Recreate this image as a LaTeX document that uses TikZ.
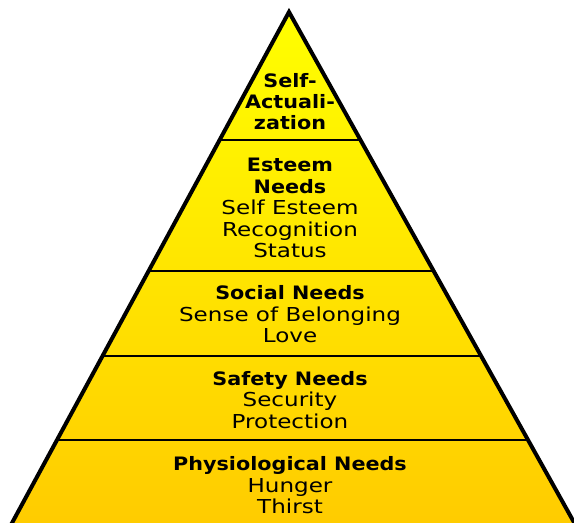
\documentclass[tikz,border=0pt]{standalone}
\usepackage{fontspec}
\setmainfont[FakeStretch=1.2,BoldFeatures={FakeStretch=1.12}]{DejaVu Sans}
\newcommand\hdr[1]{{\fontsize{18.5}{21.4}\selectfont\bfseries #1}}
\begin{document}
\begin{tikzpicture}[x=1pt,y=-1pt,
  tier/.style={align=center,inner sep=0pt,font=\fontsize{19.2}{21.4}\selectfont},
  sep/.style={line width=2pt,black},
  outline/.style={line width=4pt,black,line join=miter}]
\useasboundingbox (0,0) rectangle (574,523);
\begin{scope}
\clip (0,0) rectangle (574,523);
\coordinate (apex) at (289,12);
\coordinate (bl) at (8.2,530);
\coordinate (br) at (578.3,530);
\shade[top color={rgb,255:red,255;green,255;blue,0},bottom color={rgb,255:red,255;green,203;blue,0}]
  (apex) -- (bl) -- (br) -- cycle;
\begin{scope}
\clip (apex) -- (bl) -- (br) -- cycle;
\foreach \yy/\nm in {140/a,271/b,356/c,440/d}{
  \coordinate (l\nm) at (0,\yy);
  \coordinate (r\nm) at (574,\yy);
  \draw[sep] (l\nm) -- (r\nm);
}
\end{scope}
\draw[outline] (bl) -- (apex) -- (br);
\end{scope}
\node[tier] (t1) at (290,101.5) {\hdr{Self-}\\\hdr{Actuali-}\\\hdr{zation}};
\node[tier] (t2) at (290,208) {\hdr{Esteem}\\\hdr{Needs}\\Self Esteem\\Recognition\\Status};
\node[tier] (t3) at (290,314.5) {\hdr{Social Needs}\\Sense of Belonging\\Love};
\node[tier] (t4) at (290,400) {\hdr{Safety Needs}\\Security\\Protection};
\node[tier] (t5) at (290,485.5) {\hdr{Physiological Needs}\\Hunger\\Thirst};
\end{tikzpicture}
\end{document}
